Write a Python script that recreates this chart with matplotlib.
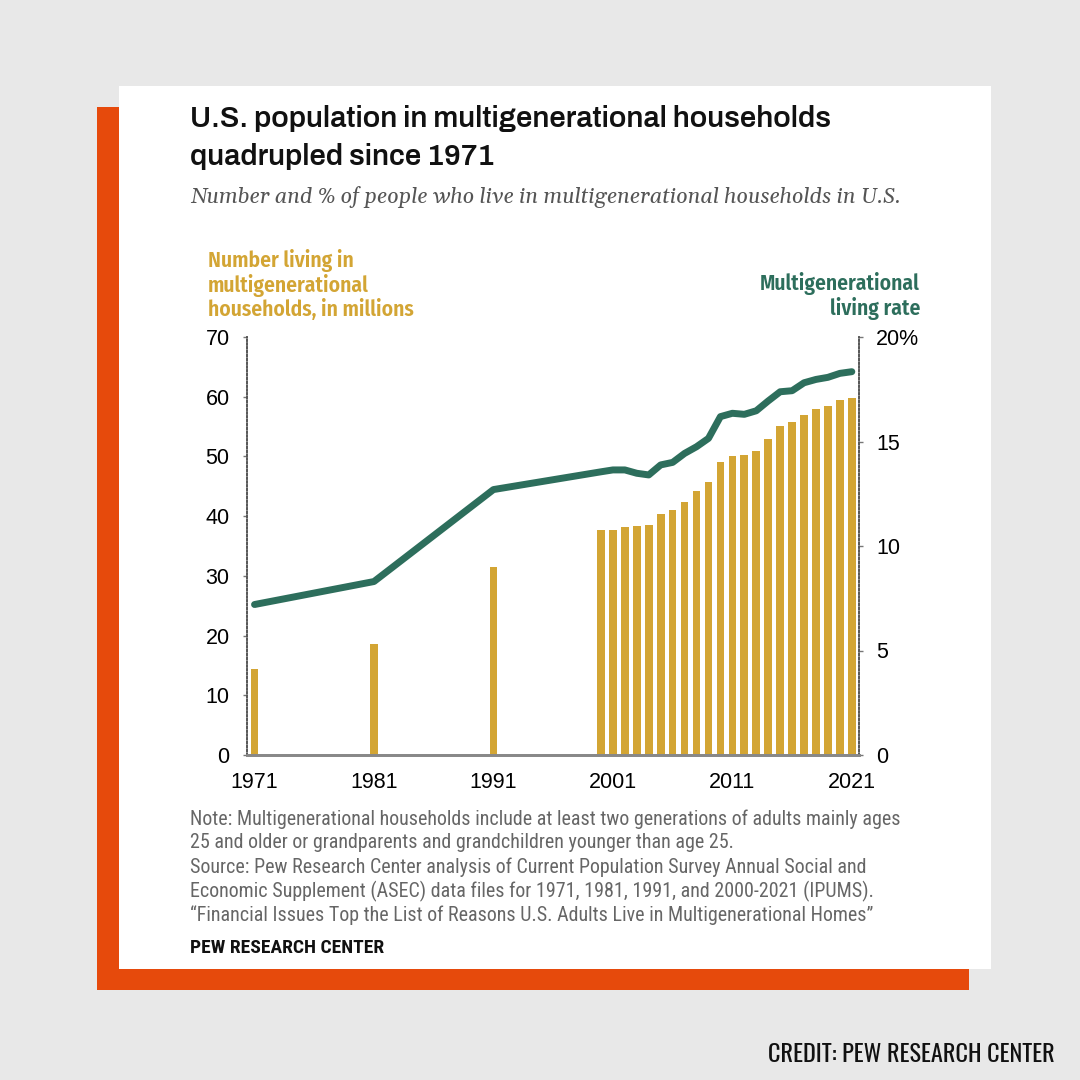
import matplotlib.pyplot as plt
from matplotlib.patches import Rectangle

# data
years = [1971, 1981, 1991] + list(range(2000, 2022))
millions = [14.4, 18.6, 31.5,
            37.6, 37.7, 38.2, 38.4, 38.5, 40.3, 41.0, 42.3, 44.2, 45.7,
            49.1, 50.0, 50.3, 50.9, 53.0, 55.1, 55.7, 57.0, 58.0, 58.4,
            59.4, 59.8]
rate = [7.2, 8.3, 12.7,
        13.55, 13.64, 13.64, 13.48, 13.4, 13.88, 14.0, 14.43, 14.75, 15.15,
        16.19, 16.35, 16.3, 16.47, 16.94, 17.38, 17.43, 17.81, 17.97, 18.07,
        18.26, 18.34]
xticks = [1971, 1981, 1991, 2001, 2011, 2021]
left_ticks = [0, 10, 20, 30, 40, 50, 60, 70]
right_ticks = [0, 5, 10, 15, 20]
right_labels = ["0", "5", "10", "15", "20%"]

gold = "#d3a534"
green = "#2d6e5c"
grey = "#666666"

SANS = ["Liberation Sans", "DejaVu Sans"]
TITLE = ["Archivo", "DejaVu Sans"]
SERIF = ["Gelasio", "DejaVu Serif"]
COND_B = ["Fira Sans Condensed", "DejaVu Sans"]
COND = ["Roboto Condensed", "DejaVu Sans"]
CREDIT = ["Oswald", "DejaVu Sans"]

W = 1080.0


def px(x, y):
    return x / W, 1 - y / W


fig = plt.figure(figsize=(10.8, 10.8), dpi=100)
fig.patch.set_facecolor("#e8e8e8")

# orange frame and white card
fig.patches.append(Rectangle(px(97, 990), 872 / W, 883 / W, transform=fig.transFigure,
                             facecolor="#e64a0c", edgecolor="none", zorder=-2))
fig.patches.append(Rectangle(px(119, 969), 872 / W, 883 / W, transform=fig.transFigure,
                             facecolor="white", edgecolor="none", zorder=-1))

ax = fig.add_axes([247 / W, 1 - 755 / W, (859 - 247) / W, (755 - 337) / W])
ax.set_facecolor("none")
ax.bar(years, millions, width=0.64, color=gold, zorder=2)
ax.set_xlim(1970.37, 2021.6)
ax.set_ylim(0, 70)

ax2 = ax.twinx()
ax2.plot(years, rate, color=green, lw=5, solid_capstyle="round", solid_joinstyle="round", zorder=3)
ax2.set_ylim(0, 20)

for a in (ax, ax2):
    a.spines["top"].set_visible(False)
    for s in ("left", "right"):
        a.spines[s].set_linestyle((0, (1, 1.3)))
        a.spines[s].set_color("#555555")
        a.spines[s].set_linewidth(1.2)
    a.spines["bottom"].set_color("#888888")
    a.spines["bottom"].set_linewidth(2)

ax.set_xticks(xticks)
ax.set_xticklabels([str(t) for t in xticks], fontsize=15.5, family=SANS)
ax.tick_params(axis="x", length=0, pad=12)
ax.set_yticks(left_ticks)
ax.set_yticklabels([str(t) for t in left_ticks], fontsize=15.5, family=SANS)
ax.tick_params(axis="y", length=3, width=1, color="#777777", pad=9.5)
ax2.set_yticks(right_ticks)
ax2.set_yticklabels(right_labels, fontsize=15.5, family=SANS)
ax2.tick_params(axis="y", length=3, width=1, color="#777777", pad=9.5)

# titles
fig.text(*px(190, 118), "U.S. population in multigenerational households", fontsize=21,
         fontweight="bold", family=TITLE, va="center", ha="left", color="#111111")
fig.text(*px(190, 157), "quadrupled since 1971", fontsize=21,
         fontweight="bold", family=TITLE, va="center", ha="left", color="#111111")
fig.text(*px(190, 197), "Number and % of people who live in multigenerational households in U.S.",
         fontsize=15.5, style="italic", family=SERIF,
         va="center", ha="left", color="#555555")

# axis titles
fig.text(*px(208, 285), "Number living in\nmultigenerational\nhouseholds, in millions",
         fontsize=15.5, fontweight=600, family=COND_B, color=gold,
         va="center", ha="left", linespacing=1.1)
fig.text(*px(920, 296), "Multigenerational\nliving rate",
         fontsize=15.5, fontweight=600, family=COND_B, color=green,
         va="center", ha="right", multialignment="right", linespacing=1.1)

# notes
notes = ["Note: Multigenerational households include at least two generations of adults mainly ages",
         "25 and older or grandparents and grandchildren younger than age 25.",
         "Source: Pew Research Center analysis of Current Population Survey Annual Social and",
         "Economic Supplement (ASEC) data files for 1971, 1981, 1991, and 2000-2021 (IPUMS).",
         "\u201cFinancial Issues Top the List of Reasons U.S. Adults Live in Multigenerational Homes\u201d"]
for i, line in enumerate(notes):
    fig.text(*px(190, 819 + 24 * i), line, fontsize=14.4, family=COND, color=grey,
             va="center", ha="left")
fig.text(*px(190, 948), "PEW RESEARCH CENTER", fontsize=14, fontweight="bold",
         family=COND, color="#111111", va="center", ha="left")

fig.text(*px(1055, 1055), "CREDIT: PEW RESEARCH CENTER", fontsize=17.5, family=CREDIT,
         color="#111111", va="center", ha="right")

fig.savefig("out.png", dpi=100, facecolor=fig.get_facecolor())
